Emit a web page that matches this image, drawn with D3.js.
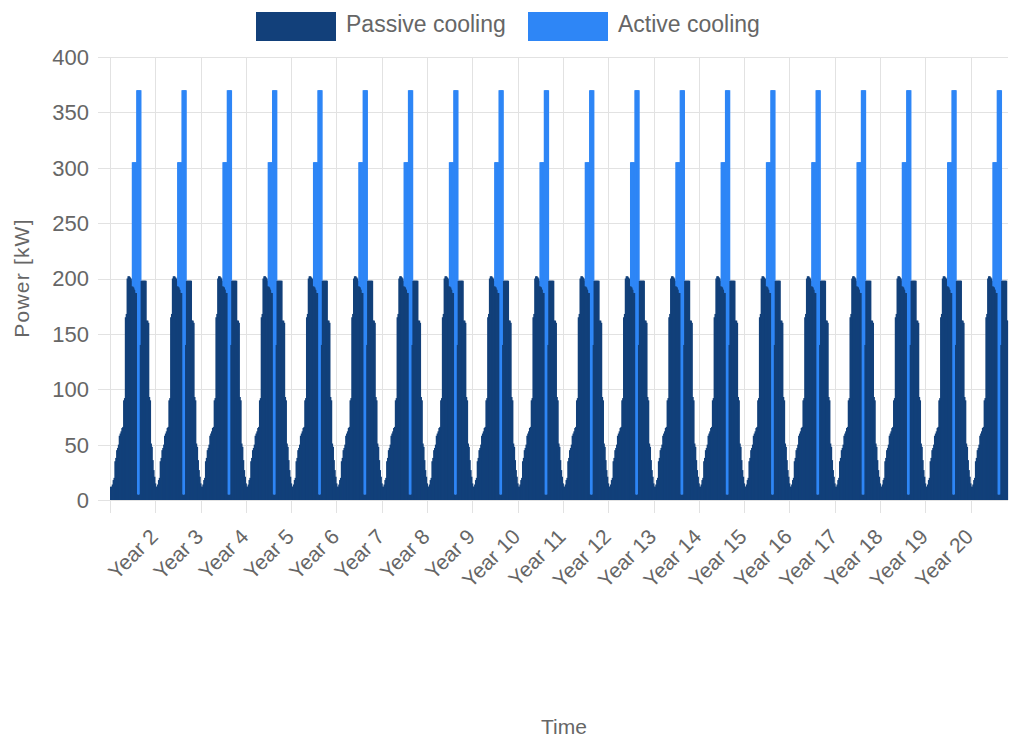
<html><head>
<meta charset="utf-8">
<title>Cooling power</title>
<script type="text/javascript" src="https://d3js.org/d3.v7.min.js"></script>
<style>
  body { margin: 0; background: #fff; }
  text { font-family: "Liberation Sans", Arial, Helvetica, sans-serif; fill: #666; }
</style>
</head>
<body>
<div id="chart"></div>
<script>

// weekly profile of one year (same every year)
var passiveWeekly = [12,12,14,18,20,35,38,45,47,50,58,60,62,65,66,90,92,165,168,200,
                     202,202,201,200,198,193,193,192,190,187,187,5,5,140,198,198,198,198,198,198,
                     198,162,162,160,93,90,51,48,36,27,21,15];
var activeWeekly  = [0,0,0,0,0,0,0,0,0,0,0,0,0,0,0,0,0,0,0,0,
                     0,0,0,0,0,112,112,113,115,118,183,365,365,230,172,0,0,0,0,0,
                     0,0,0,0,0,0,0,0,0,0,0,0];
var yearCount = 20;
var weeksInLastYear = 43;
var yearLabels = ["", "Year 2","Year 3","Year 4","Year 5","Year 6","Year 7","Year 8","Year 9","Year 10",
                  "Year 11","Year 12","Year 13","Year 14","Year 15","Year 16","Year 17","Year 18","Year 19","Year 20"];
var yTicks = [0,50,100,150,200,250,300,350,400];
var seriesNames = ["Passive cooling", "Active cooling"];
var seriesColors = ["#12407a", "#2e86f6"];

// build the weekly table
var data = [];
for (var y = 0; y < yearCount; y++) {
  var nw = (y == yearCount - 1) ? weeksInLastYear : passiveWeekly.length;
  for (var w = 0; w < nw; w++) {
    data.push({ i: data.length, passive: passiveWeekly[w], active: activeWeekly[w] });
  }
}

var W = 1009, H = 738;
var plotLeft = 110, plotRight = 1008, plotTop = 57, plotBottom = 500;

var svg = d3.select("#chart").append("svg")
  .attr("width", W).attr("height", H);

var xScale = d3.scaleBand()
  .domain(d3.range(data.length))
  .range([plotLeft, plotRight])
  .padding(0);

var yScale = d3.scaleLinear()
  .domain([0, 400])
  .range([plotBottom, plotTop]);

// horizontal grid
svg.append("g").selectAll("line")
  .data(yTicks).enter().append("line")
  .attr("x1", plotLeft - 12).attr("x2", plotRight)
  .attr("y1", function(d) { return Math.round(yScale(d)) + 0.5; })
  .attr("y2", function(d) { return Math.round(yScale(d)) + 0.5; })
  .attr("stroke", "#e2e2e2");

// vertical grid at year starts
var yearStarts = yearLabels.map(function(d, k) { return k * passiveWeekly.length; });
svg.append("g").selectAll("line")
  .data(yearStarts).enter().append("line")
  .attr("x1", function(d) { return Math.round(xScale(d)) + 0.5; })
  .attr("x2", function(d) { return Math.round(xScale(d)) + 0.5; })
  .attr("y1", plotTop).attr("y2", plotBottom + 13)
  .attr("stroke", "#e2e2e2");

// y labels
svg.append("g").selectAll("text")
  .data(yTicks).enter().append("text")
  .attr("x", 89)
  .attr("y", function(d) { return yScale(d); })
  .attr("dy", "0.36em")
  .attr("text-anchor", "end")
  .style("font-size", "22px")
  .text(function(d) { return d; });

// stacked bars (slightly widened so neighbours overlap, no seams)
var stack = d3.stack().keys(["passive", "active"])(data);
var bw = xScale.bandwidth() + 1;

svg.append("g").selectAll("g")
  .data(stack).enter().append("g")
  .attr("fill", function(d, k) { return seriesColors[k]; })
  .selectAll("rect")
  .data(function(d) { return d.filter(function(p) { return p[1] > p[0]; }); })
  .enter().append("rect")
  .attr("x", function(p) { return xScale(p.data.i); })
  .attr("width", function(p) { return p.data.i == data.length - 1 ? xScale.bandwidth() : bw; })
  .attr("y", function(p) { return yScale(p[1]); })
  .attr("height", function(p) { return yScale(p[0]) - yScale(p[1]); });

// x labels, rotated
svg.append("g").selectAll("text")
  .data(yearStarts).enter().append("text")
  .attr("transform", function(d) { return "translate(" + (xScale(d) + 4) + ",538) rotate(-45)"; })
  .attr("text-anchor", "end")
  .style("font-size", "21px")
  .text(function(d, k) { return yearLabels[k]; });

// axis titles
svg.append("text")
  .attr("transform", "translate(29,278) rotate(-90)")
  .attr("text-anchor", "middle")
  .style("font-size", "21px")
  .style("letter-spacing", "1.2px")
  .text("Power [kW]");

svg.append("text")
  .attr("x", 564).attr("y", 734)
  .attr("text-anchor", "middle")
  .style("font-size", "21px")
  .text("Time");

// legend
var legendX = [256, 528];
seriesNames.forEach(function(name, k) {
  svg.append("rect")
    .attr("x", legendX[k]).attr("y", 12)
    .attr("width", 80).attr("height", 29)
    .attr("fill", seriesColors[k]);
  svg.append("text")
    .attr("x", legendX[k] + 90).attr("y", 32)
    .style("font-size", "23px")
    .text(name);
});

</script>
</body></html>
